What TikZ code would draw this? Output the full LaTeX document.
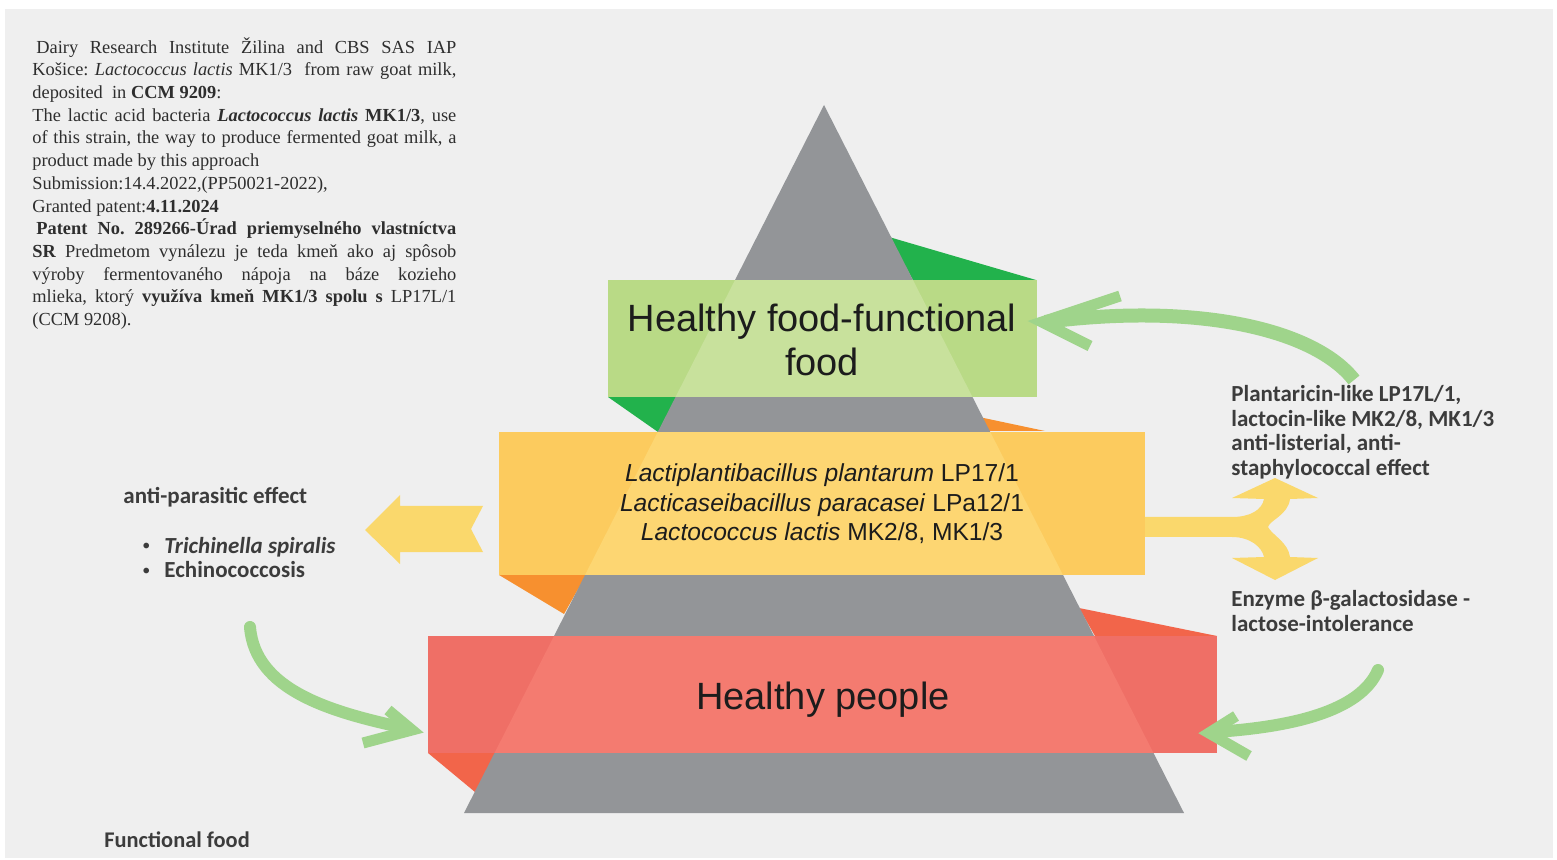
\documentclass[tikz,border=0pt]{standalone}
\usepackage{fontspec}
\setmainfont{Liberation Serif}
\newfontfamily\arialf{Liberation Sans}
\newfontfamily\calf{Carlito}
\usetikzlibrary{calc}
\definecolor{bg}{HTML}{EFEFEF}
\definecolor{pyr}{HTML}{939598}
\definecolor{gout}{HTML}{B9DA86}
\definecolor{gin}{HTML}{C8E19C}
\definecolor{gdark}{HTML}{22B24C}
\definecolor{yout}{HTML}{FCCB5E}
\definecolor{yin}{HTML}{FDD672}
\definecolor{ydark}{HTML}{F7902F}
\definecolor{rout}{HTML}{EF6F66}
\definecolor{rin}{HTML}{F47B70}
\definecolor{rdark}{HTML}{F2654A}
\definecolor{arrg}{HTML}{9FD48B}
\definecolor{arry}{HTML}{FAD86C}
\definecolor{txt}{HTML}{3C3C3C}
\definecolor{ptxt}{HTML}{2E2E2E}
\definecolor{btxt}{HTML}{1C1C1C}
\tikzset{
  para/.style={inner sep=0pt, text width=212pt, align=justify, text=ptxt,
    font=\frenchspacing\fontsize{9.2}{11.35}\selectfont},
  bigband/.style={inner sep=0pt, align=center, text=btxt, font=\arialf\fontsize{19}{22}\selectfont},
  strainbox/.style={inner sep=0pt, align=center, text=btxt, font=\arialf\fontsize{12.3}{14.75}\selectfont},
  sidetext/.style={inner sep=0pt, align=left, text=txt, font=\calf\bfseries\fontsize{11.5}{12.25}\selectfont},
  bulletmark/.style={inner sep=0pt, text=txt, font=\calf\fontsize{8}{10}\selectfont},
  greenarrow/.style={draw=arrg, line width=6pt, line cap=round},
  greenhead/.style={draw=arrg, line width=5.5pt, line join=miter, line cap=butt},
}
\begin{document}
\begin{tikzpicture}[x=0.5pt,y=-0.5pt]
\useasboundingbox (0,0) rectangle (1557,860);
\fill[white] (0,0) rectangle (1557,860);
\fill[bg] (5,9) rectangle (1553,858);

% ---------- left paragraph
\node[para, anchor=north west] (patent) at (32,37) {\hspace*{2pt}Dairy Research Institute Žilina and CBS SAS IAP\linebreak
Košice: \textit{Lactococcus lactis} MK1/3\ \ from raw goat milk,\linebreak
deposited\ \ in \textbf{CCM 9209}:\newline
The lactic acid bacteria \textbf{\textit{Lactococcus lactis} MK1/3}, use\linebreak
of this strain, the way to produce fermented goat milk, a\linebreak
product made by this approach\newline
Submission:14.4.2022,(PP50021-2022),\newline
Granted patent:\textbf{4.11.2024}\newline
\hspace*{2pt}\textbf{Patent No. 289266-Úrad priemyselného vlastníctva}\linebreak
\textbf{SR} Predmetom vynálezu je teda kmeň ako aj spôsob\linebreak
výroby fermentovaného nápoja na báze kozieho\linebreak
mlieka, ktorý \textbf{využíva kmeň MK1/3 spolu s} LP17L/1\linebreak
(CCM 9208).};

% ---------- ribbon folds (behind pyramid)
\fill[gdark] (889,237) -- (1036,280) -- (913,280) -- cycle;
\fill[gdark] (608,397) -- (678,397) -- (658,432) -- cycle;
\fill[ydark] (979,417) -- (1045,431) -- (988,431) -- cycle;
\fill[ydark] (499,575) -- (586,575) -- (564,614) -- cycle;
\fill[rdark] (1079,608) -- (1217,636) -- (1095,636) -- cycle;
\fill[rdark] (428,753) -- (497,753) -- (475,792) -- cycle;

% ---------- pyramid
\coordinate (apex) at (824,105);
\coordinate (baseL) at (464,813);
\coordinate (baseR) at (1184,813);
\fill[pyr] (apex) -- (baseR) -- (baseL) -- cycle;

% ---------- bands
\fill[gout] (608,280) rectangle (1037,397);
\fill[yout] (499,432) rectangle (1145,575);
\fill[rout] (428,636) rectangle (1217,753);
\begin{scope}
  \clip (apex) -- (baseR) -- (baseL) -- cycle;
  \fill[gin] (608,280) rectangle (1037,397);
  \fill[yin] (499,432) rectangle (1145,575);
  \fill[rin] (428,636) rectangle (1217,753);
\end{scope}

\node[bigband] (food) at (822,340) {Healthy food-functional\\food};
\node[strainbox] (strains) at (822,504) {\textit{Lactiplantibacillus plantarum} LP17/1\\
\textit{Lacticaseibacillus paracasei} LPa12/1\\
\textit{Lactococcus lactis} MK2/8, MK1/3};
\node[bigband] (people) at (823,700) {Healthy people};

% ---------- side texts
\node[sidetext, anchor=north west] (bacteriocin) at (1231,385) {Plantaricin-like LP17L/1,\\lactocin-like MK2/8, MK1/3\\anti-listerial, anti-\\staphylococcal effect};
\node[sidetext, anchor=north west] (enzyme) at (1231,590) {Enzyme β-galactosidase -\\lactose-intolerance};
\node[sidetext, anchor=base west] (parasit) at (123,504) {anti-parasitic effect};
\node[bulletmark, anchor=base west] (bul1) at (142,551) {•};
\node[sidetext, anchor=base west] (trich) at (164,553) {\textit{Trichinella spiralis}};
\node[bulletmark, anchor=base west] (bul2) at (142,575) {•};
\node[sidetext, anchor=base west] (echino) at (164,577) {Echinococcosis};
\node[sidetext, anchor=base west, font=\calf\bfseries\fontsize{11.2}{12.25}\selectfont] (funcfood) at (104,847) {Functional food};

% ---------- yellow arrows
\fill[arry] (365,530) -- (400,495) -- (400,506) -- (483,506) -- (471,529) -- (483,552) -- (400,552) -- (400,564) -- cycle;
\fill[arry] (1145,517) -- (1232,517)
   .. controls (1250,517) and (1262,510) .. (1264,499)
   -- (1232,498) -- (1275,478) -- (1318,498) -- (1290,499)
   .. controls (1288,515) and (1270,520) .. (1268,527)
   .. controls (1272,535) and (1288,542) .. (1290,557)
   -- (1318,558) -- (1275,580) -- (1232,558) -- (1264,557)
   .. controls (1262,547) and (1250,537) .. (1232,537)
   -- (1145,537) -- cycle;

% ---------- green curved arrows
\coordinate (t1) at (1045,322);
\coordinate (s1) at (1354,380);
\draw[greenarrow, line width=7pt, line cap=butt] (s1) .. controls (1315,330) and (1200,302) .. (t1);
\draw[greenhead] (1120,296) -- (1042,322) -- (1090,346);

\coordinate (s2) at (250,627);
\coordinate (t2) at (405,728);
\draw[greenarrow] (s2) .. controls (255,690) and (330,712) .. (t2);
\draw[greenhead] (388,710) -- (412,730) -- (363,743);

\coordinate (s3) at (1378,670);
\coordinate (t3) at (1215,732);
\draw[greenarrow] (s3) .. controls (1360,712) and (1290,727) .. (t3);
\draw[greenhead] (1236,716) -- (1209,733) -- (1249,756);
\end{tikzpicture}
\end{document}
